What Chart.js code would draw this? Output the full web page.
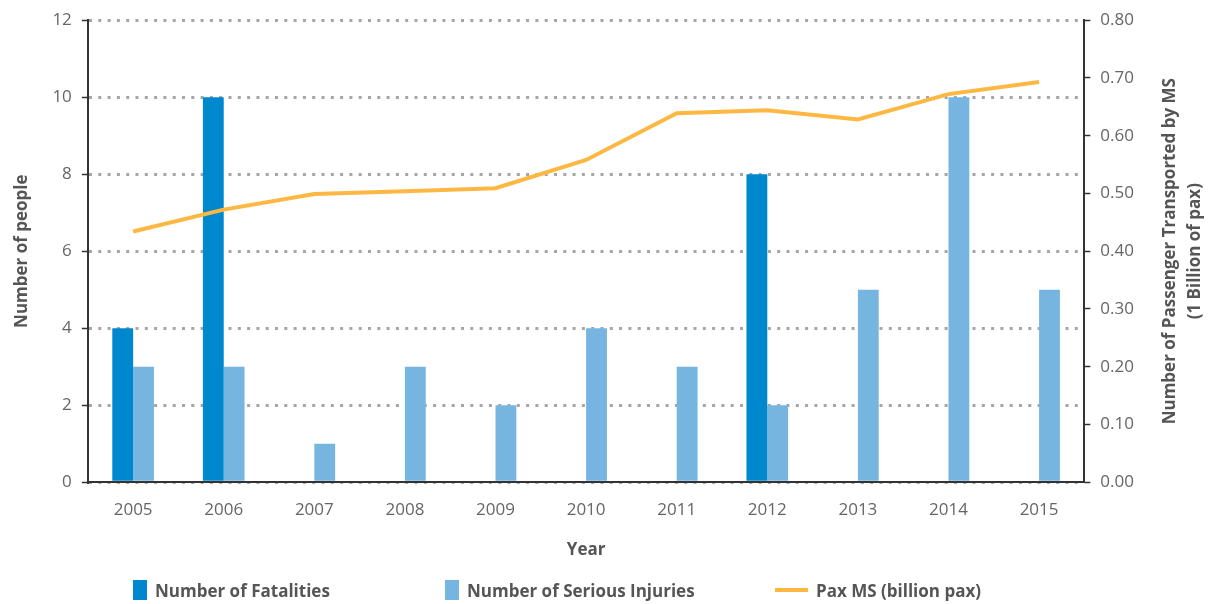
<!DOCTYPE html>
<html>
<head>
<meta charset="utf-8">
<script src="https://cdn.jsdelivr.net/npm/chart.js@4"></script>
<style>
  html, body { margin: 0; padding: 0; background: #fff; }
  #wrap { position: relative; width: 1214px; height: 604px; }
  #legend { position: absolute; left: 0; top: 578px; width: 1214px; height: 24px; }
  .item { position: absolute; top: 0; height: 24px; display: flex; align-items: center;
          font: bold 17px "Open Sans", "DejaVu Sans", sans-serif; color: #555; white-space: nowrap; }
  .swatch { display: inline-block; margin-right: 8px; }
</style>
</head>
<body>
<div id="wrap">
  <canvas id="chart"></canvas>
  <div id="legend"></div>
</div>
<script>
const years = ['2005', '2006', '2007', '2008', '2009', '2010', '2011', '2012', '2013', '2014', '2015'];
const fatalities = [4, 10, 0, 0, 0, 0, 0, 8, 0, 0, 0];
const seriousInjuries = [3, 3, 1, 3, 2, 4, 3, 2, 5, 10, 5];
const paxMS = [0.434, 0.472, 0.499, 0.504, 0.509, 0.558, 0.639, 0.644, 0.628, 0.672, 0.693];
const rightTitle = ['Number of Passenger Transported by MS', '(1 Billion of pax)'];

const FONT = '"Open Sans", "DejaVu Sans", sans-serif';
const tickColor = '#666';
const titleColor = '#555';

// right axis title reads bottom-to-top, so draw it ourselves
const rightTitlePlugin = {
  id: 'rightTitle',
  afterDraw(chart) {
    const { ctx, chartArea } = chart;
    const cy = (chartArea.top + chartArea.bottom) / 2;
    ctx.save();
    ctx.fillStyle = titleColor;
    ctx.font = 'bold 17px ' + FONT;
    ctx.textAlign = 'center';
    ctx.textBaseline = 'middle';
    rightTitle.forEach((line, i) => {
      ctx.save();
      ctx.translate(chart.width - 44 + i * 25, cy);
      ctx.rotate(-Math.PI / 2);
      ctx.fillText(line, 0, 0);
      ctx.restore();
    });
    ctx.restore();
  }
};

const chart = new Chart(document.getElementById('chart'), {
  type: 'bar',
  data: {
    labels: years,
    datasets: [
      {
        label: 'Number of Fatalities',
        data: fatalities,
        backgroundColor: '#0088ce',
        yAxisID: 'y',
        order: 2
      },
      {
        label: 'Number of Serious Injuries',
        data: seriousInjuries,
        backgroundColor: '#77b5e1',
        yAxisID: 'y',
        order: 2
      },
      {
        type: 'line',
        label: 'Pax MS (billion pax)',
        data: paxMS,
        borderColor: '#fdb843',
        backgroundColor: '#fdb843',
        borderWidth: 4,
        pointRadius: 0,
        tension: 0,
        yAxisID: 'y1',
        order: 1
      }
    ]
  },
  options: {
    responsive: true,
    maintainAspectRatio: false,
    animation: false,
    datasets: {
      bar: { barPercentage: 1, categoryPercentage: 0.46 }
    },
    layout: { padding: { top: 9, right: 70, left: 8, bottom: 44 } },
    scales: {
      x: {
        grid: { display: false, drawTicks: false },
        border: { color: '#333', width: 2 },
        ticks: { color: tickColor, font: { family: FONT, size: 17 }, padding: 18 },
        title: {
          display: true,
          text: 'Year',
          color: titleColor,
          font: { family: FONT, size: 17, weight: 'bold' },
          padding: { top: 1, bottom: 0 }
        }
      },
      y: {
        position: 'left',
        min: 0,
        max: 12,
        ticks: { stepSize: 2, color: tickColor, font: { family: FONT, size: 17 }, padding: 10 },
        grid: {
          color: '#a6a6a6',
          lineWidth: 3,
          tickColor: '#333',
          tickBorderDash: [],
          tickLength: 6,
          tickWidth: 1.5
        },
        border: { color: '#333', width: 2, dash: [3, 6.3] },
        title: {
          display: true,
          text: 'Number of people',
          color: titleColor,
          font: { family: FONT, size: 17, weight: 'bold' },
          padding: { bottom: 10 }
        }
      },
      y1: {
        position: 'right',
        min: 0,
        max: 0.8,
        ticks: {
          stepSize: 0.1,
          color: tickColor,
          font: { family: FONT, size: 17 },
          padding: 10,
          callback: v => v.toFixed(2)
        },
        grid: { drawOnChartArea: false, tickColor: '#333', tickLength: 6, tickWidth: 1.5 },
        border: { color: '#333', width: 2 }
      }
    },
    plugins: {
      legend: { display: false },
      tooltip: { enabled: false }
    }
  },
  plugins: [rightTitlePlugin]
});

// legend built from the datasets
const legendLeft = [133, 445, 775];
const legendEl = document.getElementById('legend');
chart.data.datasets.forEach((ds, i) => {
  const item = document.createElement('div');
  item.className = 'item';
  item.style.left = legendLeft[i] + 'px';
  const sw = document.createElement('span');
  sw.className = 'swatch';
  sw.style.background = ds.backgroundColor;
  if (ds.type === 'line') {
    sw.style.width = '33px';
    sw.style.height = '4px';
  } else {
    sw.style.width = '14px';
    sw.style.height = '20px';
  }
  item.appendChild(sw);
  item.appendChild(document.createTextNode(ds.label));
  legendEl.appendChild(item);
});
</script>
</body>
</html>
